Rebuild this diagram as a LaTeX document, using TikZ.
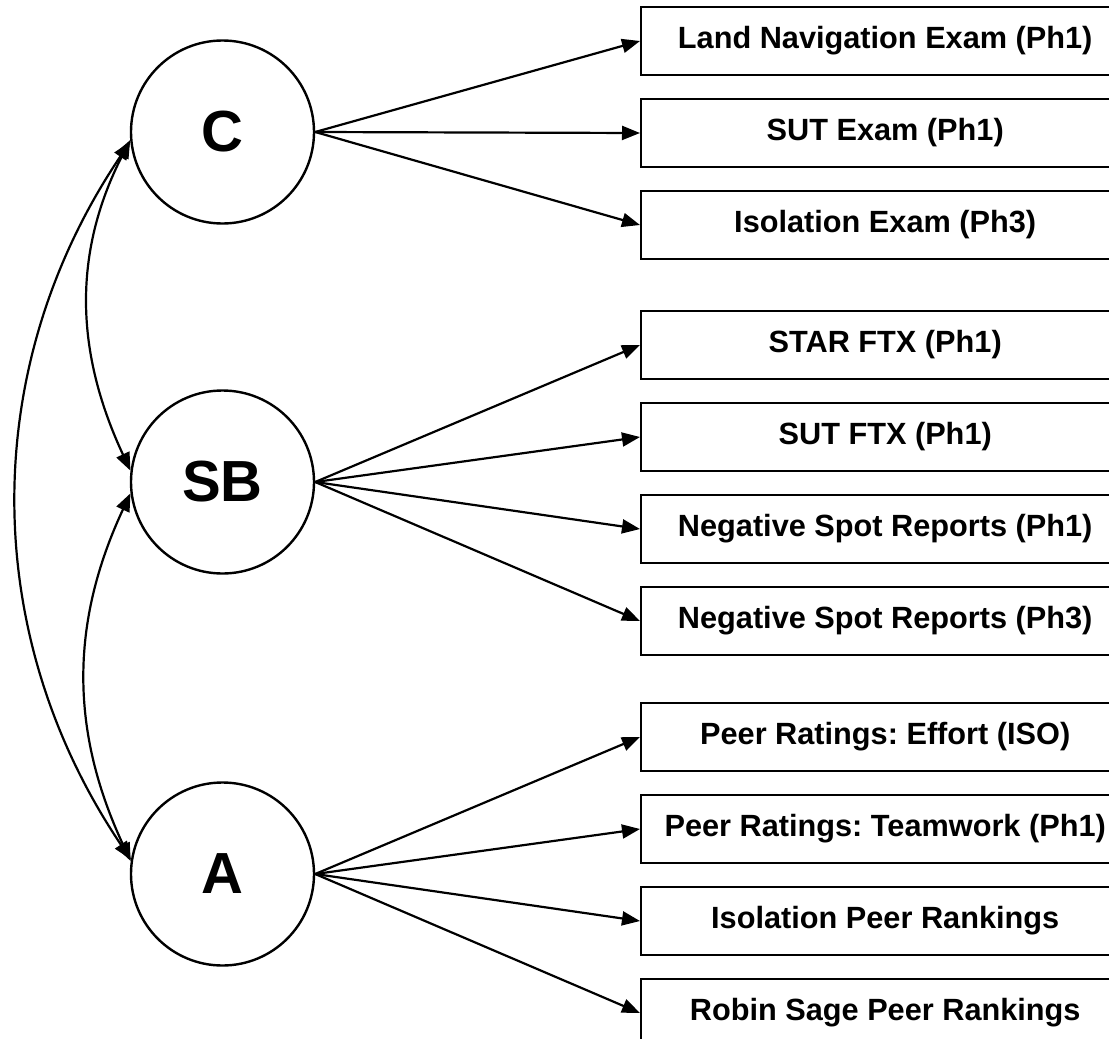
\documentclass[tikz,border=0pt]{standalone}
\usepackage{fontspec}
\setmainfont{Liberation Sans}
\frenchspacing
\usetikzlibrary{
    arrows.meta,
    positioning
}

\begin{document}
\begin{tikzpicture}[
    x=1pt, y=1pt,
    node distance=21.6pt,
    latent/.style={circle, draw, line width=2.4pt, minimum size=183pt,
      inner sep=0pt, font=\fontsize{58}{66}\selectfont\bfseries},
    indicator/.style={rectangle, draw, line width=2.4pt, minimum width=488pt,
      minimum height=68pt, inner sep=0pt, font=\fontsize{30.7}{36}\selectfont\bfseries},
    arrow/.style={-{Triangle[length=18pt, width=14pt]}, line width=2.2pt},
    cov/.style={{Triangle[length=18pt, width=14pt]}-{Triangle[length=18pt, width=14pt]},
      line width=2.2pt, looseness=1}
]
\useasboundingbox (0,0) rectangle (1109,-1039);

% latent factors
\node[latent] (C) at (222.5,-132) {C};
\node[latent] (SB) at (222.5,-482) {SB};
\node[latent] (A) at (222.5,-874) {A};

% indicators
\node[indicator, anchor=west] (landnav) at (640,-41) {Land Navigation Exam (Ph1)};
\node[indicator, below=of landnav] (sutexam) {SUT Exam (Ph1)};
\node[indicator, below=of sutexam] (isoexam) {Isolation Exam (Ph3)};
\node[indicator, below=49.6pt of isoexam] (starftx) {STAR FTX (Ph1)};
\node[indicator, below=of starftx] (sutftx) {SUT FTX (Ph1)};
\node[indicator, below=of sutftx] (negspot1) {Negative Spot Reports (Ph1)};
\node[indicator, below=of negspot1] (negspot3) {Negative Spot Reports (Ph3)};
\node[indicator, below=45.6pt of negspot3] (effort) {Peer Ratings: Effort (ISO)};
\node[indicator, below=of effort] (teamwork) {Peer Ratings: Teamwork (Ph1)};
\node[indicator, below=of teamwork] (isorank) {Isolation Peer Rankings};
\node[indicator, below=of isorank] (robinsage) {Robin Sage Peer Rankings};

% loadings
\foreach \ind in {landnav, sutexam, isoexam}
  \draw[arrow] (C.east) -- (\ind.west);
\foreach \ind in {starftx, sutftx, negspot1, negspot3}
  \draw[arrow] (SB.east) -- (\ind.west);
\foreach \ind in {effort, teamwork, isorank, robinsage}
  \draw[arrow] (A.east) -- (\ind.west);

% factor covariances
\draw[cov] (C.185) to[out=243, in=115] (SB.173);
\draw[cov] (SB.187) to[out=245, in=115] (A.172);
\draw[cov] (C.186) to[out=236, in=124, looseness=0.97] (A.171);
\end{tikzpicture}
\end{document}
